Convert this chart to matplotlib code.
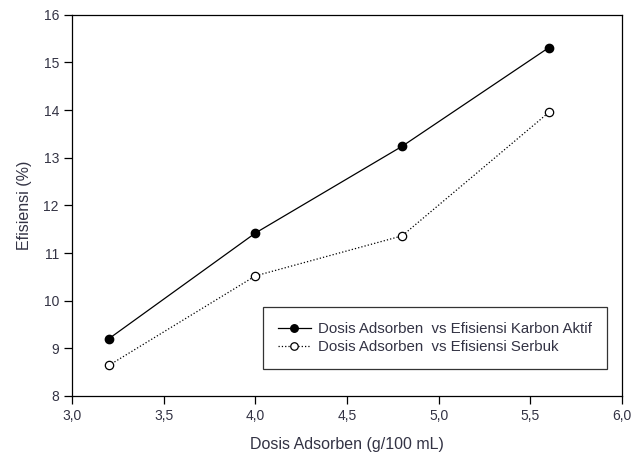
import matplotlib
matplotlib.use('Agg')
import matplotlib.pyplot as plt

dosis = [3.2, 4.0, 4.8, 5.6]
karbon_aktif = [9.2, 11.42, 13.24, 15.31]
serbuk = [8.64, 10.52, 11.36, 13.95]
xticks = [3.0, 3.5, 4.0, 4.5, 5.0, 5.5, 6.0]
xticklabels = ['3,0', '3,5', '4,0', '4,5', '5,0', '5,5', '6,0']
yticks = [8, 9, 10, 11, 12, 13, 14, 15, 16]

plt.rcParams['font.family'] = ['Liberation Sans', 'DejaVu Sans']
txt = '#333344'

fig = plt.figure(figsize=(6.44, 4.62), dpi=100)
ax = fig.add_axes([0.112, 0.143, 0.854, 0.825])

ax.plot(dosis, karbon_aktif, '-', color='black', lw=0.9, marker='o', ms=6,
        mfc='black', mec='black', label='Dosis Adsorben  vs Efisiensi Karbon Aktif')
ax.plot(dosis, serbuk, ':', color='black', lw=0.9, marker='o', ms=6,
        mfc='white', mec='black', mew=0.9, label='Dosis Adsorben  vs Efisiensi Serbuk')

ax.set_xlim(3.0, 6.0)
ax.set_ylim(8, 16)
ax.set_xticks(xticks)
ax.set_xticklabels(xticklabels)
ax.set_yticks(yticks)
ax.tick_params(direction='out', length=6, width=0.9, labelsize=10, colors='black',
               labelcolor=txt, top=False, right=False)
for s in ax.spines.values():
    s.set_linewidth(0.9)

ax.set_xlabel('Dosis Adsorben (g/100 mL)', fontsize=11.5, color=txt, labelpad=10)
ax.set_ylabel('Efisiensi (%)', fontsize=11.5, color=txt, labelpad=8)

leg = ax.legend(loc='lower right', bbox_to_anchor=(0.973, 0.071), fontsize=10.8,
                frameon=True, fancybox=False, edgecolor='black', handlelength=2.2,
                borderpad=1.0, labelspacing=0.25, handletextpad=0.5, borderaxespad=0,
                markerscale=0.9)
leg.get_frame().set_linewidth(0.9)
for t in leg.get_texts():
    t.set_color(txt)

fig.savefig('out.png', dpi=100)
